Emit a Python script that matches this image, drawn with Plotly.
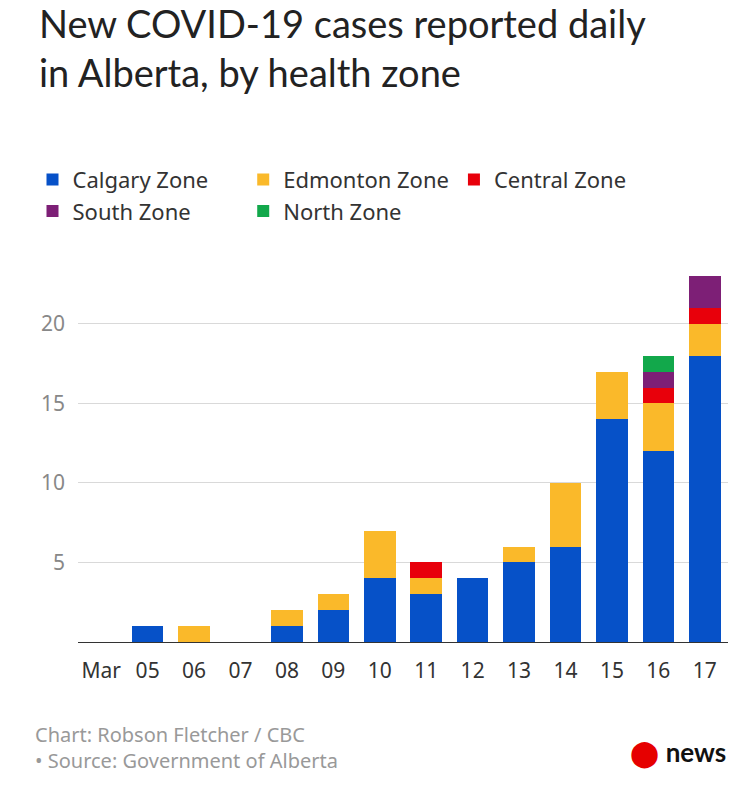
import plotly.graph_objects as go

dates = ["Mar", "05", "06", "07", "08", "09", "10", "11", "12", "13", "14", "15", "16", "17"]
calgary = [0, 1, 0, 0, 1, 2, 4, 3, 4, 5, 6, 14, 12, 18]
edmonton = [0, 0, 1, 0, 1, 1, 3, 1, 0, 1, 4, 3, 3, 2]
central = [0, 0, 0, 0, 0, 0, 0, 1, 0, 0, 0, 0, 1, 1]
south = [0, 0, 0, 0, 0, 0, 0, 0, 0, 0, 0, 0, 1, 2]
north = [0, 0, 0, 0, 0, 0, 0, 0, 0, 0, 0, 0, 1, 0]

series = [
    ("Calgary Zone", calgary, "#0651C8"),
    ("Edmonton Zone", edmonton, "#FAB92A"),
    ("Central Zone", central, "#E8000B"),
    ("South Zone", south, "#7D1F76"),
    ("North Zone", north, "#12A84B"),
]

fig = go.Figure()
for name, vals, col in series:
    fig.add_trace(go.Bar(x=dates, y=vals, name=name, marker_color=col, marker_line_width=0))

font = "Noto Sans"
fig.update_layout(
    barmode="stack", bargap=0.32,
    width=750, height=808,
    margin=dict(l=70, r=30, t=265, b=174),
    paper_bgcolor="white", plot_bgcolor="white",
    font=dict(family=font, size=21, color="#333"),
    showlegend=True,
    legend=dict(orientation="h", x=-0.07, y=1.31, xanchor="left", yanchor="top",
                font=dict(size=22, color="#333"), traceorder="normal",
                itemwidth=30, tracegroupgap=0),
    xaxis=dict(type="category", showgrid=False, showline=True, linecolor="#333",
               ticks="", tickfont=dict(size=21, color="#333"), ticklabelstandoff=10),
    yaxis=dict(range=[0, 23.2], tickvals=[5, 10, 15, 20], showgrid=True,
               gridcolor="#d9d9d9", zeroline=False, ticks="",
               tickfont=dict(size=21, color="#888"), ticklabelstandoff=12),
)
fig.add_annotation(text="New COVID-19 cases reported daily<br>in Alberta, by health zone",
                   xref="paper", yref="paper", x=-0.063, y=1.745, xanchor="left", yanchor="top",
                   align="left", showarrow=False,
                   font=dict(family="Lato", size=38, color="#222"))
fig.add_annotation(text="Chart: Robson Fletcher / CBC<br>• Source: Government of Alberta",
                   xref="paper", yref="paper", x=-0.07, y=-0.21, xanchor="left", yanchor="top",
                   align="left", showarrow=False,
                   font=dict(size=20, color="#999"))
fig.add_annotation(text="<span style='color:#E60000'>⬤</span> <b>news</b>",
                   xref="paper", yref="paper", x=1.0, y=-0.25, xanchor="right", yanchor="top",
                   showarrow=False, font=dict(family="Lato", size=26, color="#111"))
fig.write_html("out.html")
